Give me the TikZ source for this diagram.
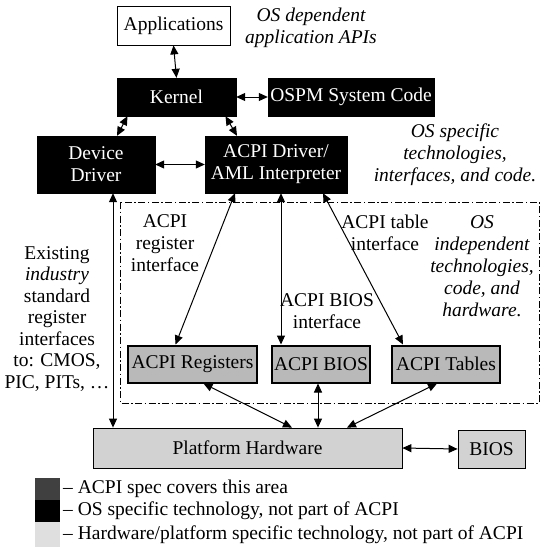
\documentclass[tikz,border=0pt]{standalone}
\usepackage{fontspec}
\setmainfont{Liberation Serif}
\usetikzlibrary{arrows.meta}
\begin{document}
\begin{tikzpicture}[x=1pt,y=-1pt,
  every node/.style={font=\fontsize{19.5}{22}\selectfont},
  blk/.style={fill=black,text=white,draw=black,minimum height=38pt,inner sep=0pt,align=center},
  acpibox/.style={fill=gray!55,draw=black,line width=2pt,minimum height=37pt,inner sep=0pt},
  hwbox/.style={fill=gray!35,draw=black,line width=0.8pt,inner sep=0pt},
  arr/.style={{Triangle[length=9pt,width=8pt]}-{Triangle[length=9pt,width=8pt]},line width=1pt},
  lbl/.style={align=center,inner sep=0pt},
  ital/.style={align=center,inner sep=0pt,font=\fontsize{19.5}{22}\selectfont\itshape}]
\useasboundingbox (0,0) rectangle (544,549);
% top
\node[draw=black,line width=0.8pt,fill=white,minimum width=113pt,minimum height=39pt,inner sep=0pt] (apps) at (173.5,25.5) {Applications};
\node[ital] (osdep) at (311,28) {OS dependent\\application APIs};
\node[blk,minimum width=119pt] (kernel) at (176.5,97) {Kernel};
\node[blk,minimum width=166pt] (ospm) at (351,97) {OSPM System Code};
\node[blk,minimum width=118pt,minimum height=57pt] (dd) at (96,164.5) {Device\\Driver};
\node[blk,minimum width=142pt,minimum height=57pt] (acpid) at (276,164.5) {ACPI Driver/\\AML Interpreter};
\node[ital] (osspec) at (455,155) {OS specific\\technologies,\\interfaces, and code.};
% dash-dot region
\draw[line width=1pt,dash pattern=on 7pt off 2.5pt on 1.5pt off 2.5pt] (120,202) rectangle (539,403);
\node[lbl] (lreg) at (165,243.5) {ACPI\\register\\interface};
\node[lbl] (lbios) at (327,311.5) {ACPI BIOS\\interface};
\node[lbl] (ltab) at (385,232.5) {ACPI table\\interface};
\node[ital] (osind) at (482,266) {OS\\independent\\technologies,\\code, and\\hardware.};
\node[lbl,font=\fontsize{19.5}{21.5}\selectfont] (exist) at (57,319) {Existing\\\textit{industry}\\standard\\register\\interfaces\\to: CMOS,\\PIC, PITs, \dots};
\node[acpibox,minimum width=129pt] (reg) at (192.5,364) {ACPI Registers};
\node[acpibox,minimum width=98pt] (abios) at (321,364) {ACPI BIOS};
\node[acpibox,minimum width=108pt] (tab) at (446,364) {ACPI Tables};
\node[hwbox,minimum width=309pt,minimum height=40pt] (ph) at (247.5,448) {Platform Hardware};
\node[hwbox,minimum width=67pt,minimum height=38pt] (bios) at (491.5,449) {BIOS};
% connectors
\draw[arr] (apps.south) -- (kernel.north);
\draw[arr] (kernel.east) -- (ospm.west);
\draw[arr] ([xshift=-49pt]kernel.south) -- ([xshift=21pt]dd.north);
\draw[arr] ([xshift=49pt]kernel.south) -- ([xshift=-39pt]acpid.north);
\draw[arr] (dd.east) -- (acpid.west);
\draw[arr] ([xshift=-41pt]acpid.south) -- ([xshift=-17pt]reg.north);
\draw[arr] ([xshift=5pt]acpid.south) -- ([xshift=-40pt]abios.north);
\draw[arr] ([xshift=47pt]acpid.south) -- ([xshift=-43pt]tab.north);
\draw[arr] ([xshift=17pt]dd.south) -- ([xshift=-134.5pt]ph.north);
\draw[arr] ([xshift=11pt]reg.south) -- ([xshift=44.5pt]ph.north);
\draw[arr] ([xshift=-3pt]abios.south) -- ([xshift=70.5pt]ph.north);
\draw[arr] ([xshift=-9pt]tab.south) -- ([xshift=99.5pt]ph.north);
\draw[arr] (ph.east) -- (bios.west);
% legend
\fill[black!75] (35,478) rectangle (60,500);
\fill[black] (35,500) rectangle (60,522);
\fill[gray!25] (35,522) rectangle (60,547);
\node[anchor=west,inner sep=0pt] (leg1) at (63,489) {– ACPI spec covers this area};
\node[anchor=west,inner sep=0pt] (leg2) at (63,511) {– OS specific technology, not part of ACPI};
\node[anchor=west,inner sep=0pt] (leg3) at (63,535) {– Hardware/platform specific technology, not part of ACPI};
\end{tikzpicture}
\end{document}
